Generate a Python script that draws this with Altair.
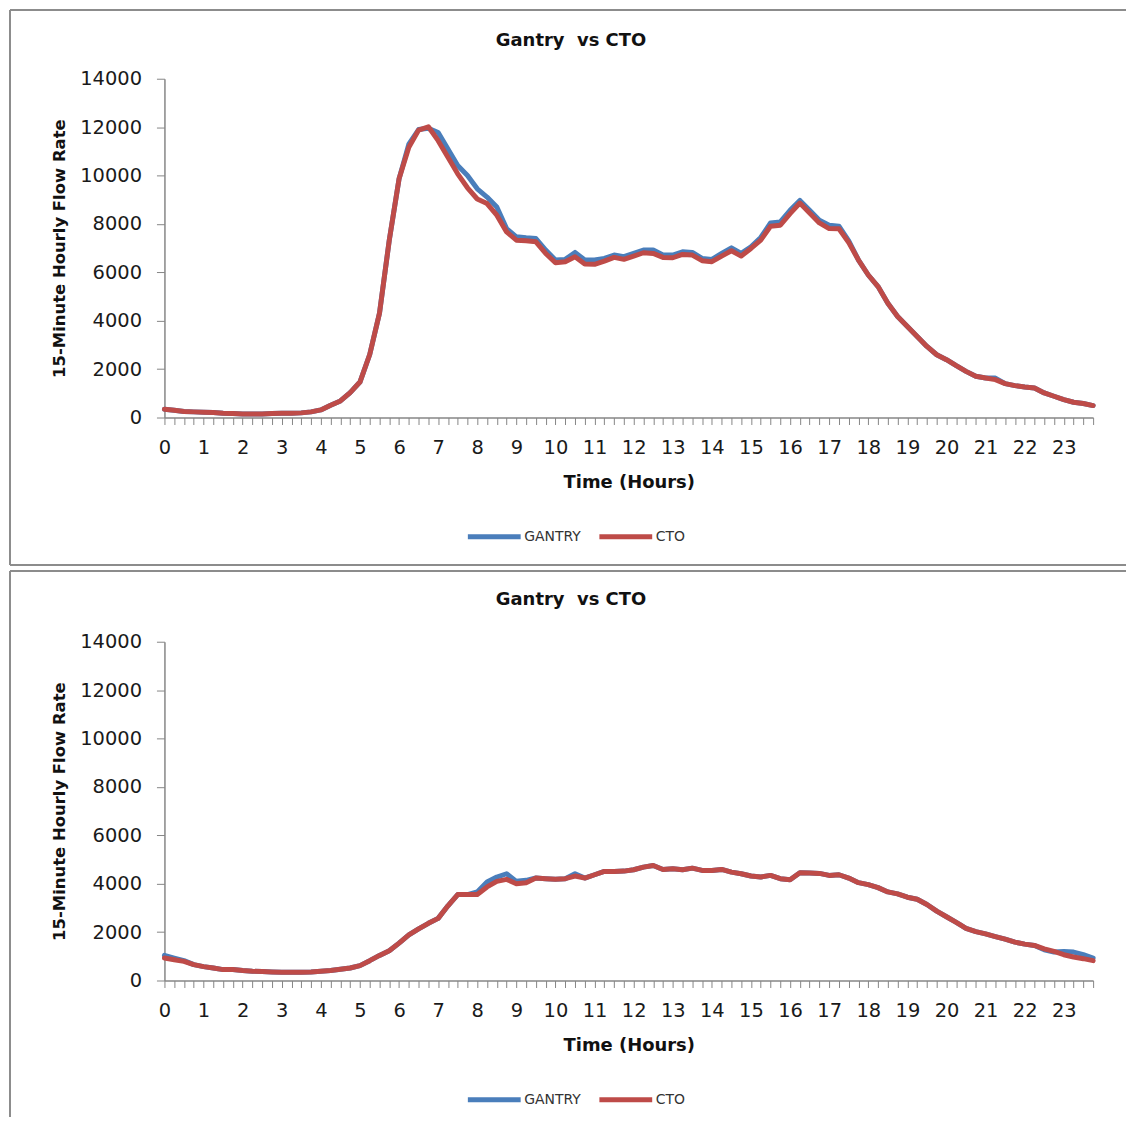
import altair as alt
import pandas as pd

# ---- data (15-minute intervals, 96 per day) ----
hours = [i / 4 for i in range(96)]
series_names = ["GANTRY", "CTO"]
series_colors = ["#4A7EBB", "#BE4B48"]
y_ticks = [0, 2000, 4000, 6000, 8000, 10000, 12000, 14000]

gantry_top = [343, 300, 247, 233, 219, 205, 178, 164, 150, 150, 150, 164, 178, 178, 192, 233,
              315, 507, 685, 1030, 1466, 2603, 4315, 7330, 9864, 11300, 11900, 11950,
              11780, 11100, 10410, 10000, 9450, 9110, 8700,
              7809, 7467, 7425, 7398, 6919, 6508, 6535, 6823, 6508, 6508, 6576, 6713, 6645, 6781,
              6919, 6919, 6713, 6713, 6850, 6823, 6576, 6535, 6781, 7014, 6781, 7055, 7439, 8042,
              8083, 8562, 8973, 8562, 8151, 7946, 7905,
              7300, 6508, 5890, 5410, 4723, 4174, 3762, 3350, 2938, 2595, 2389, 2142, 1908, 1703,
              1634, 1630, 1400, 1318, 1263, 1222, 1016, 879, 741, 632, 577, 494]
cto_top = [343, 300, 247, 233, 219, 205, 178, 164, 150, 150, 150, 164, 178, 178, 192, 233,
           315, 507, 685, 1030, 1466, 2603, 4315, 7330, 9864, 11166, 11880, 12015,
           11440, 10755, 10070, 9494, 9030, 8840, 8360,
           7672, 7330, 7302, 7261, 6780, 6398, 6439, 6645, 6343, 6330, 6466, 6617, 6535, 6672,
           6809, 6781, 6617, 6603, 6740, 6713, 6480, 6439, 6672, 6891, 6672, 6987, 7330, 7905,
           7946, 8425, 8864, 8453, 8042, 7809, 7800,
           7230, 6508, 5890, 5410, 4723, 4174, 3762, 3350, 2938, 2595, 2389, 2142, 1908, 1703,
           1634, 1565, 1400, 1318, 1263, 1222, 1016, 879, 741, 632, 577, 494]

gantry_bottom = [1038, 929, 820, 656, 574, 519, 451, 451, 410, 382, 369, 355, 341, 341, 341, 355,
                 382, 410, 464, 519, 615, 820, 1038, 1229, 1544, 1885, 2131, 2363, 2568, 3087,
                 3552, 3552, 3661, 4071, 4276,
                 4412, 4098, 4139, 4235, 4207, 4180, 4207, 4412, 4235, 4371, 4508, 4508, 4521,
                 4576, 4685, 4754, 4590, 4617, 4576, 4644, 4549, 4549, 4590, 4480, 4412, 4317,
                 4276, 4344, 4207, 4166, 4453, 4440, 4426, 4344, 4371,
                 4235, 4043, 3961, 3839, 3661, 3579, 3442, 3360, 3142, 2869, 2636, 2404, 2158,
                 2022, 1926, 1817, 1707, 1585, 1503, 1448, 1270, 1175, 1202, 1175, 1066, 929]
cto_bottom = [929, 861, 792, 656, 574, 519, 451, 451, 410, 382, 369, 355, 341, 341, 341, 355,
              382, 410, 464, 519, 615, 820, 1038, 1229, 1544, 1885, 2131, 2363, 2568, 3087,
              3552, 3552, 3552, 3866, 4098,
              4180, 4002, 4043, 4235, 4207, 4180, 4207, 4317, 4235, 4371, 4508, 4508, 4521,
              4576, 4685, 4754, 4590, 4617, 4576, 4644, 4549, 4549, 4590, 4480, 4412, 4317,
              4276, 4344, 4207, 4166, 4453, 4440, 4426, 4344, 4371,
              4235, 4043, 3961, 3839, 3661, 3579, 3442, 3360, 3142, 2869, 2636, 2404, 2158,
              2022, 1926, 1817, 1707, 1585, 1503, 1448, 1311, 1202, 1066, 970, 902, 820]

chart_title = "Gantry\u00a0 vs CTO"
x_title = "Time (Hours)"
y_title = "15-Minute Hourly Flow Rate"

FONT = "DejaVu Sans"
W, H = 932, 340
BORDER_GRAY = "#8C8C8C"
AXIS_GRAY = "#868686"


def make_df(g, c):
    rows = []
    for name, vals in zip(series_names, (g, c)):
        for h, v in zip(hours, vals):
            rows.append({"hour": h, "series": name, "flow": v})
    return pd.DataFrame(rows)


def border(x, x2, y, y2):
    return alt.Chart(pd.DataFrame({"k": [0]})).mark_rule(
        color=BORDER_GRAY, strokeWidth=2
    ).encode(x=alt.value(x), x2=alt.value(x2), y=alt.value(y), y2=alt.value(y2))


def panel(g, c, top_y, bottom_y, with_bottom):
    df = make_df(g, c)
    lines = alt.Chart(df).mark_line(
        strokeWidth=5, strokeJoin="round", strokeCap="round"
    ).encode(
        x=alt.X(
            "hour:Q",
            scale=alt.Scale(domain=[0, 23.75], nice=False, zero=False),
            axis=alt.Axis(
                values=hours,
                labelExpr="datum.value % 1 === 0 ? format(datum.value, 'd') : ''",
                labelOverlap=False,
                labelFlush=False,
                grid=False,
                tickSize=7,
                tickColor=AXIS_GRAY,
                domainColor=AXIS_GRAY,
                domainWidth=1.5,
                labelFont=FONT,
                labelFontSize=19.5,
                labelColor="#1a1a1a",
                labelPadding=14,
                title=x_title,
                titleFont=FONT,
                titleFontSize=18,
                titleFontWeight="bold",
                titleColor="#111111",
                titlePadding=17,
            ),
        ),
        y=alt.Y(
            "flow:Q",
            scale=alt.Scale(domain=[0, 14000], nice=False),
            axis=alt.Axis(
                values=y_ticks,
                format="d",
                grid=False,
                tickSize=8,
                tickColor=AXIS_GRAY,
                domainColor=AXIS_GRAY,
                domainWidth=1.5,
                labelFont=FONT,
                labelFontSize=19.5,
                labelColor="#1a1a1a",
                labelPadding=15,
                title=y_title,
                titleFont=FONT,
                titleFontSize=16.5,
                titleFontWeight="bold",
                titleColor="#111111",
                titlePadding=12,
            ),
        ),
        color=alt.Color(
            "series:N",
            scale=alt.Scale(domain=series_names, range=series_colors),
            legend=alt.Legend(
                title=None,
                orient="none",
                legendX=345,
                legendY=452,
                direction="horizontal",
                symbolType="M-9.6,0H1",
                symbolSize=100,
                symbolStrokeWidth=5,
                labelFont=FONT,
                labelFontSize=14,
                labelColor="#333333",
                labelOffset=1,
                columnPadding=8,
                padding=0,
            ),
        ),
    )
    parts = [
        border(-155, 965, top_y, top_y),
        border(-155, -155, top_y, bottom_y),
    ]
    if with_bottom:
        parts.append(border(-155, 965, bottom_y, bottom_y))
    return alt.layer(*parts, lines).properties(
        width=W,
        height=H,
        view=alt.ViewBackground(strokeOpacity=0, strokeWidth=0),
        title=alt.TitleParams(
            chart_title,
            font=FONT,
            fontSize=18,
            fontWeight="bold",
            color="#111111",
            anchor="middle",
            dx=-58,
            offset=-41 if top_y == -69 else -39,
        ),
    )


top = panel(gantry_top, cto_top, -69, 488, True)
bottom = panel(gantry_bottom, cto_bottom, -71, 477, False)

chart = alt.vconcat(top, bottom, spacing=4).resolve_scale(
    color="independent"
).resolve_legend(color="independent").properties(
    padding={"left": 1, "top": -1, "right": 0, "bottom": 0}
).configure_view(stroke="transparent", strokeWidth=0).configure(background="white")

chart.save("out.html", embed_options={"renderer": "svg", "actions": False})
